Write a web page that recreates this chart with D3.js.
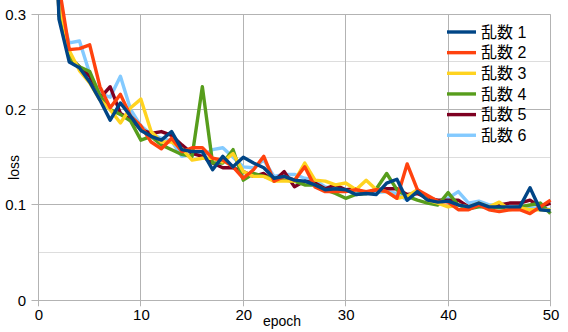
<!DOCTYPE html>
<html>
<head>
<meta charset="utf-8">
<script src="https://cdn.jsdelivr.net/npm/d3@7/dist/d3.min.js"></script>
<style>
  html, body { margin: 0; padding: 0; background: #fff; }
  svg { display: block; }
  text { font-family: "Liberation Sans", "Noto Sans CJK JP", sans-serif; fill: #000; }
</style>
</head>
<body>
<div id="chart"></div>
<script>
const epochs = [1,2,3,4,5,6,7,8,9,10,11,12,13,14,15,16,17,18,19,20,21,22,23,24,25,26,27,28,29,30,31,32,33,34,35,36,37,38,39,40,41,42,43,44,45,46,47,48,49,50];
const seriesNames = ["乱数 1", "乱数 2", "乱数 3", "乱数 4", "乱数 5", "乱数 6"];
const s1 = [0.60,0.295,0.250,0.244,0.229,0.210,0.189,0.207,0.193,0.178,
            0.172,0.168,0.177,0.158,0.156,0.156,0.137,0.151,0.140,0.150,
            0.144,0.139,0.128,0.130,0.126,0.125,0.121,0.116,0.117,0.116,
            0.111,0.112,0.111,0.123,0.127,0.105,0.114,0.105,0.103,0.104,
            0.100,0.098,0.102,0.098,0.098,0.098,0.098,0.118,0.095,0.094];
const s2 = [0.62,0.330,0.263,0.264,0.268,0.224,0.202,0.216,0.193,0.183,
            0.166,0.159,0.170,0.156,0.160,0.160,0.149,0.147,0.140,0.128,
            0.137,0.151,0.125,0.130,0.126,0.140,0.119,0.114,0.114,0.114,
            0.116,0.114,0.116,0.114,0.107,0.143,0.116,0.110,0.104,0.103,
            0.095,0.095,0.100,0.095,0.093,0.095,0.095,0.091,0.098,0.105];
const s3 = [0.58,0.315,0.262,0.241,0.228,0.210,0.200,0.186,0.202,0.211,
            0.177,0.166,0.166,0.159,0.147,0.149,0.149,0.145,0.154,0.135,
            0.130,0.130,0.125,0.125,0.125,0.144,0.126,0.125,0.121,0.123,
            0.116,0.126,0.116,0.114,0.107,0.109,0.116,0.105,0.102,0.098,
            0.100,0.098,0.102,0.098,0.103,0.095,0.097,0.095,0.095,0.095];
const s4 = [0.57,0.300,0.255,0.245,0.240,0.215,0.200,0.195,0.188,0.168,
            0.172,0.163,0.158,0.153,0.151,0.224,0.144,0.144,0.158,0.126,
            0.133,0.130,0.128,0.126,0.125,0.121,0.121,0.116,0.112,0.107,
            0.111,0.112,0.117,0.133,0.116,0.109,0.105,0.102,0.100,0.113,
            0.100,0.096,0.098,0.098,0.097,0.097,0.098,0.100,0.102,0.091];
const s5 = [0.59,0.300,0.255,0.245,0.235,0.212,0.224,0.196,0.190,0.179,
            0.175,0.177,0.173,0.163,0.154,0.151,0.144,0.139,0.139,0.135,
            0.130,0.133,0.125,0.135,0.119,0.125,0.123,0.117,0.121,0.116,
            0.117,0.112,0.116,0.117,0.117,0.111,0.112,0.107,0.105,0.105,
            0.105,0.098,0.100,0.098,0.100,0.102,0.102,0.105,0.098,0.102];
const s6 = [0.58,0.308,0.270,0.272,0.238,0.217,0.213,0.235,0.200,0.183,
            0.174,0.170,0.167,0.151,0.154,0.152,0.158,0.160,0.150,0.140,
            0.139,0.147,0.130,0.132,0.132,0.128,0.126,0.119,0.117,0.116,
            0.113,0.114,0.113,0.114,0.112,0.105,0.115,0.106,0.104,0.107,
            0.114,0.102,0.104,0.100,0.100,0.098,0.098,0.097,0.097,0.095];
const seriesValues = [s1, s2, s3, s4, s5, s6];
const colors = ["#004586", "#ff420e", "#ffd320", "#579d1c", "#7e0021", "#83caff"];
const xTicks = [0, 10, 20, 30, 40, 50];
const yTicks = [0, 0.1, 0.2, 0.3];
const yMinorTicks = [0.05, 0.15, 0.25];
const xTitle = "epoch";
const yTitle = "loss";

(function () {
const W = 568, H = 332;
const pLeft = 38.5, pRight = 550.5, pTop = 14.3, pBottom = 300.3;

const x = d3.scaleLinear().domain([0, 50]).range([pLeft, pRight]);
const y = d3.scaleLinear().domain([0, 0.3]).range([pBottom, pTop]);
const px = v => Math.round(v - 0.5) + 0.5;

const svg = d3.select("#chart").append("svg").attr("width", W).attr("height", H);

// minor horizontal gridlines
svg.append("g").selectAll("line").data(yMinorTicks).join("line")
  .attr("x1", pLeft).attr("x2", pRight)
  .attr("y1", d => px(y(d))).attr("y2", d => px(y(d)))
  .attr("stroke", "#dddddd").attr("stroke-width", 1);

// major horizontal gridlines
svg.append("g").selectAll("line").data(yTicks).join("line")
  .attr("x1", pLeft - 7).attr("x2", pRight)
  .attr("y1", d => px(y(d))).attr("y2", d => px(y(d)))
  .attr("stroke", "#b3b3b3").attr("stroke-width", 1);

// vertical gridlines
svg.append("g").selectAll("line").data(xTicks).join("line")
  .attr("x1", d => px(x(d))).attr("x2", d => px(x(d)))
  .attr("y1", pTop).attr("y2", pBottom + 6)
  .attr("stroke", "#b3b3b3").attr("stroke-width", 1);

// y axis labels
const yAxis = d3.axisLeft(y).tickValues(yTicks).tickSize(0).tickPadding(12.5)
  .tickFormat(d => d === 0 ? "0" : d3.format(".1f")(d));
const gy = svg.append("g").attr("transform", `translate(${pLeft},0)`).call(yAxis);
gy.select(".domain").remove();
gy.selectAll("text").attr("font-size", 15).attr("fill", "#000")
  .attr("font-family", '"Liberation Sans", sans-serif');

// x axis labels
const xAxis = d3.axisBottom(x).tickValues(xTicks).tickSize(0).tickPadding(9);
const gx = svg.append("g").attr("transform", `translate(0,${pBottom})`).call(xAxis);
gx.select(".domain").remove();
gx.selectAll("text").attr("font-size", 15).attr("fill", "#000")
  .attr("font-family", '"Liberation Sans", sans-serif');

// axis titles
svg.append("text").attr("x", 282).attr("y", 325.5).attr("text-anchor", "middle")
  .attr("font-size", 14).text(xTitle);
svg.append("text").attr("transform", "translate(18.5,167.5) rotate(-90)")
  .attr("text-anchor", "middle").attr("font-size", 14).text(yTitle);

// lines (series 1 drawn last, on top)
const line = d3.line().x((d, i) => x(epochs[i])).y(d => y(d));
const order = [5, 4, 3, 2, 1, 0];
svg.append("g").selectAll("path").data(order).join("path")
  .attr("d", i => line(seriesValues[i]))
  .attr("fill", "none")
  .attr("stroke", i => colors[i])
  .attr("stroke-width", 3.4)
  .attr("stroke-linejoin", "round")
  .attr("stroke-linecap", "butt");

// legend
const lg = svg.append("g");
seriesNames.forEach((name, i) => {
  const cy = 32 + i * 20.65;
  lg.append("line").attr("x1", 447).attr("x2", 476).attr("y1", cy).attr("y2", cy)
    .attr("stroke", colors[i]).attr("stroke-width", 3.4);
  lg.append("text").attr("x", 481).attr("y", cy).attr("dy", "0.36em")
    .attr("font-size", 16).text(name);
});
})();
</script>
</body>
</html>
